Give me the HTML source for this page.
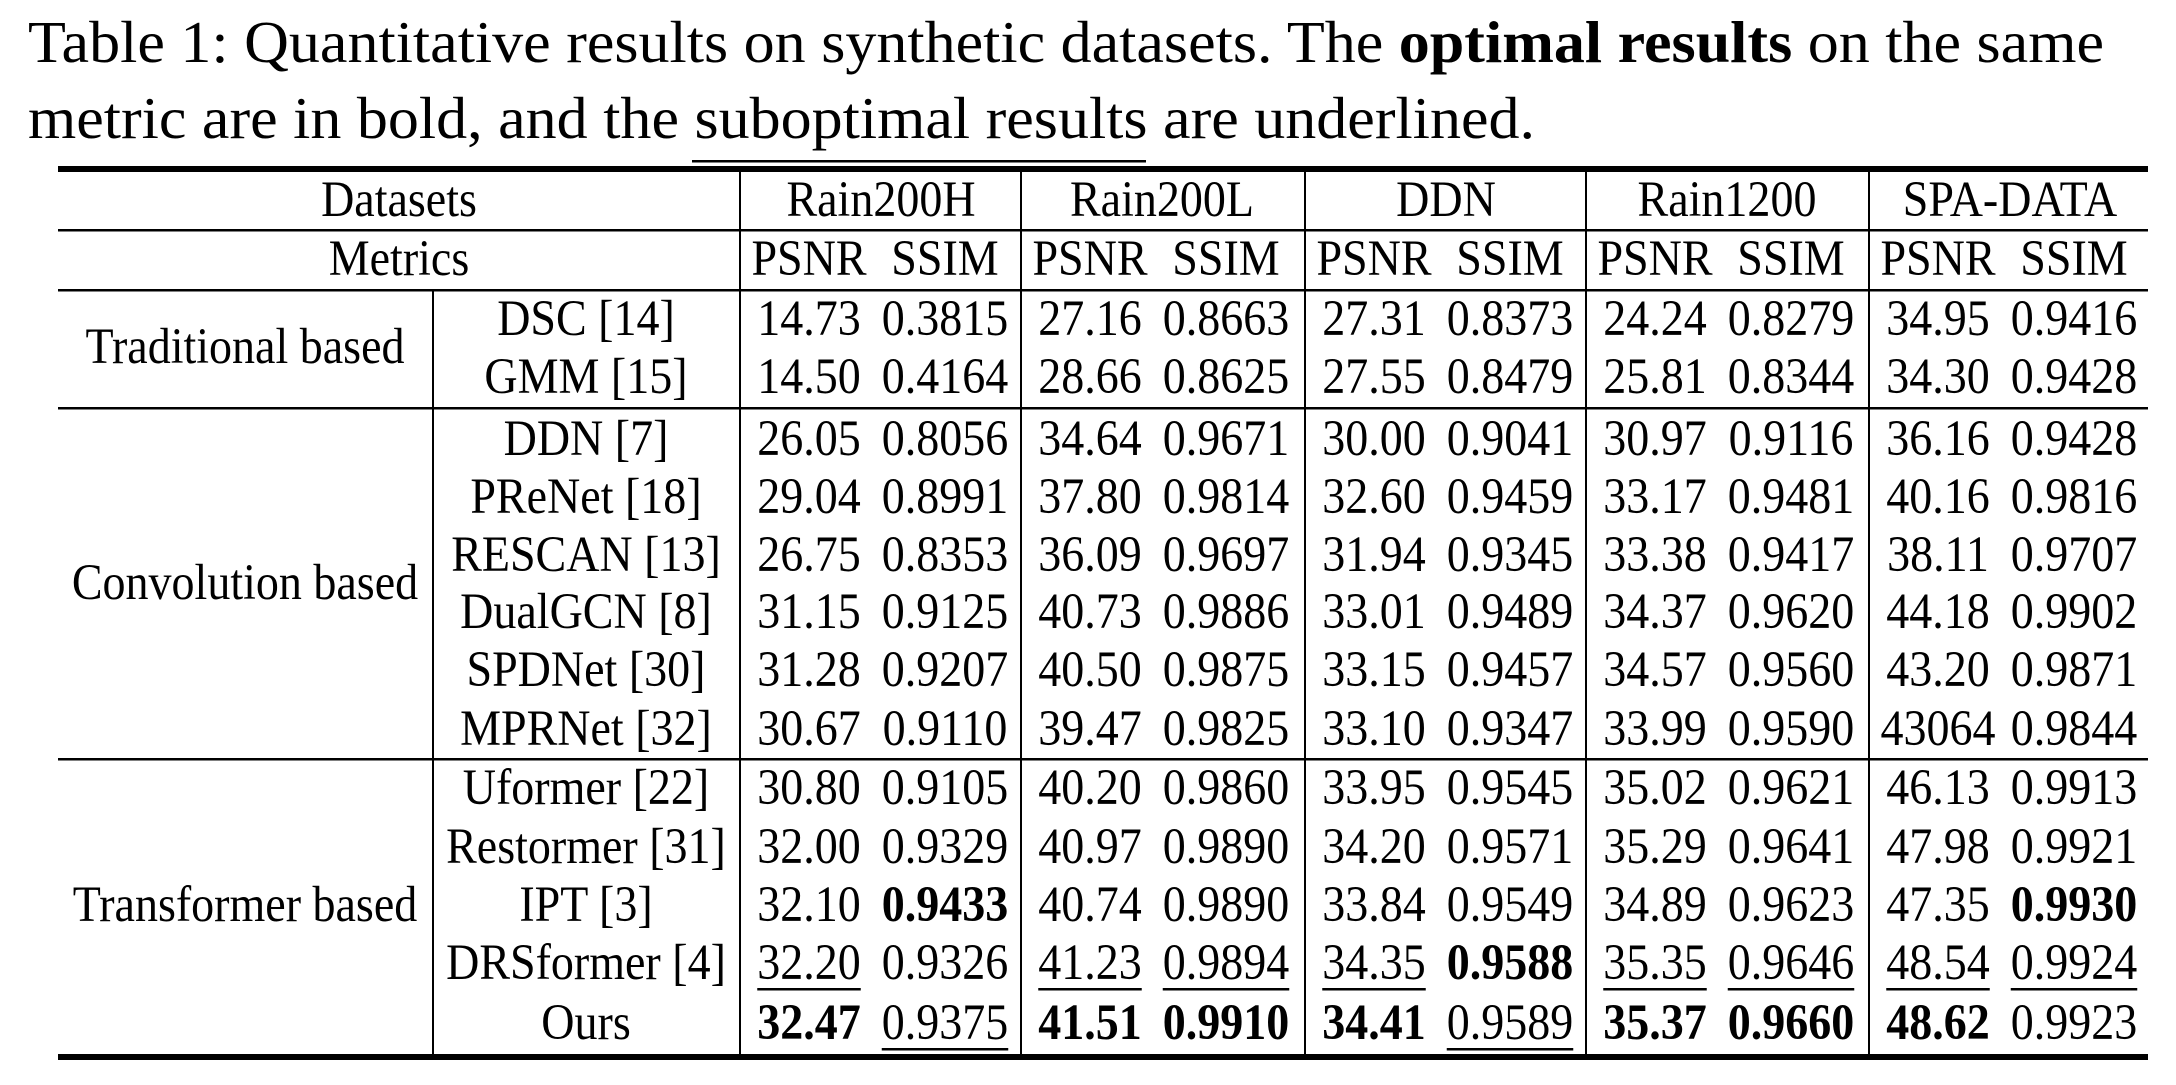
<!DOCTYPE html>
<html><head><meta charset="utf-8"><style>
html,body{margin:0;padding:0;background:#fff}
svg{display:block}
text{font-family:"Liberation Serif","Times New Roman",serif;fill:#000}
</style></head><body>
<svg id="tbl" width="2176" height="1085" viewBox="0 0 2176 1085" xmlns="http://www.w3.org/2000/svg">
<text x="28" y="62" font-size="59" textLength="2076" lengthAdjust="spacingAndGlyphs">Table 1: Quantitative results on synthetic datasets. The <tspan font-weight="bold">optimal results</tspan> on the same</text>
<text x="28" y="138" font-size="59" textLength="1507" lengthAdjust="spacingAndGlyphs">metric are in bold, and the suboptimal results are underlined.</text>
<rect x="692" y="160" width="454" height="2.5" fill="#000"/>
<g id="lines"></g>
<g id="cells"></g>
</svg>
<script>
const datasets = ["Rain200H","Rain200L","DDN","Rain1200","SPA-DATA"];
const groups = ["Traditional based","Convolution based","Transformer based"];
const groupSizes = [2,6,5];
const methods = ["DSC [14]","GMM [15]","DDN [7]","PReNet [18]","RESCAN [13]","DualGCN [8]","SPDNet [30]","MPRNet [32]","Uformer [22]","Restormer [31]","IPT [3]","DRSformer [4]","Ours"];
const values = [
"14.73 0.3815 27.16 0.8663 27.31 0.8373 24.24 0.8279 34.95 0.9416",
"14.50 0.4164 28.66 0.8625 27.55 0.8479 25.81 0.8344 34.30 0.9428",
"26.05 0.8056 34.64 0.9671 30.00 0.9041 30.97 0.9116 36.16 0.9428",
"29.04 0.8991 37.80 0.9814 32.60 0.9459 33.17 0.9481 40.16 0.9816",
"26.75 0.8353 36.09 0.9697 31.94 0.9345 33.38 0.9417 38.11 0.9707",
"31.15 0.9125 40.73 0.9886 33.01 0.9489 34.37 0.9620 44.18 0.9902",
"31.28 0.9207 40.50 0.9875 33.15 0.9457 34.57 0.9560 43.20 0.9871",
"30.67 0.9110 39.47 0.9825 33.10 0.9347 33.99 0.9590 43064 0.9844",
"30.80 0.9105 40.20 0.9860 33.95 0.9545 35.02 0.9621 46.13 0.9913",
"32.00 0.9329 40.97 0.9890 34.20 0.9571 35.29 0.9641 47.98 0.9921",
"32.10 0.9433b 40.74 0.9890 33.84 0.9549 34.89 0.9623 47.35 0.9930b",
"32.20u 0.9326 41.23u 0.9894u 34.35u 0.9588b 35.35u 0.9646u 48.54u 0.9924u",
"32.47b 0.9375u 41.51b 0.9910b 34.41b 0.9589u 35.37b 0.9660b 48.62b 0.9923"
];
const NS="http://www.w3.org/2000/svg";
const L=document.getElementById('lines'), C=document.getElementById('cells');
const groupLeft=[740,1021,1305,1586,1869];
const rowY=[319,377,439,497,555,612,670,729,788,847,905,963,1023];
const groupY=[347,583,905];
const FS=46, FS2=51;
function txt(parent,x,y,s,opt){const t=document.createElementNS(NS,'text');t.setAttribute('x',x);t.setAttribute('y',y+16);t.setAttribute('font-size',FS);t.setAttribute('text-anchor','middle');if(opt&&opt.bold)t.setAttribute('font-weight','bold');t.textContent=s;parent.appendChild(t);
  const w=t.getComputedTextLength();t.setAttribute('font-size',FS2);t.setAttribute('textLength',w.toFixed(1));t.setAttribute('lengthAdjust','spacingAndGlyphs');t._w=w;return t;}
function rect(x,y,w,h){const r=document.createElementNS(NS,'rect');r.setAttribute('x',x);r.setAttribute('y',y);r.setAttribute('width',w);r.setAttribute('height',h);r.setAttribute('fill','#000');L.appendChild(r);return r;}
let r;
r=rect(58,166,2090,6);


[229,289,407,758].forEach(y=>{r=rect(58,y,2090,2.5);

});
r=rect(58,1054,2090,6);


groupLeft.forEach(x=>{r=rect(x-1,172,2,882);

});
r=rect(432,290,2,764);


let t=txt(C,399,200,"Datasets");


t=txt(C,399,259,"Metrics");


datasets.forEach((d,i)=>{
  t=txt(C,groupLeft[i]+141,200,d);
  
  
  t=txt(C,groupLeft[i]+69,259,"PSNR");
  
  
  t=txt(C,groupLeft[i]+205,259,"SSIM");
  
  
});
groups.forEach((g,i)=>{t=txt(C,245,groupY[i],g);

});
methods.forEach((m,ri)=>{
  t=txt(C,586,rowY[ri],m);
  
  
  values[ri].split(' ').forEach((v,ci)=>{
    const flag=v.slice(-1);const bold=flag==='b',ul=flag==='u';
    const s=(bold||ul)?v.slice(0,-1):v;
    const gi=Math.floor(ci/2);const x=groupLeft[gi]+(ci%2?205:69);
    const tt=txt(C,x,rowY[ri],s,{bold});
    
    
    if(ul){const w=tt._w;const u=rect(x-w/2,rowY[ri]+25,w,2.5);
      
      }
  });
});
</script>
</body></html>
